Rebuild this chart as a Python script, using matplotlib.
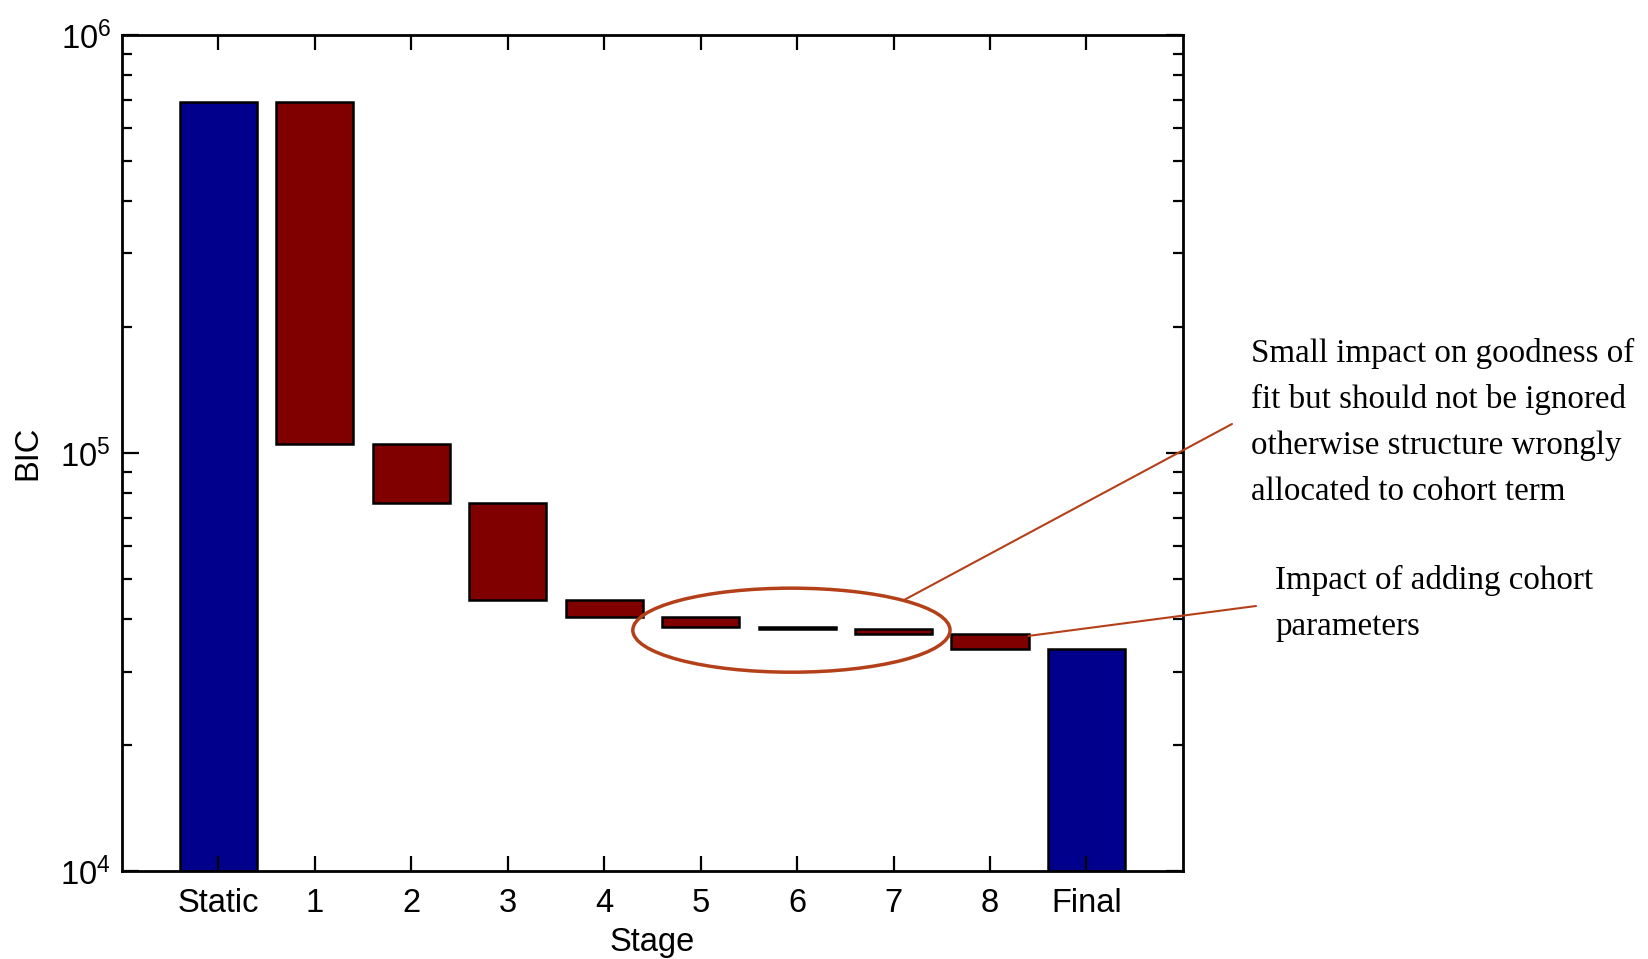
import matplotlib.pyplot as plt
import matplotlib.ticker as mticker
from matplotlib.patches import Ellipse
import numpy as np

plt.rcParams['font.family'] = ['Liberation Sans', 'DejaVu Sans']
plt.rcParams['mathtext.fontset'] = 'custom'
plt.rcParams['mathtext.rm'] = 'Liberation Sans'
plt.rcParams['mathtext.it'] = 'Liberation Sans'

# BIC after each stage (waterfall levels)
stages = ['Static', '1', '2', '3', '4', '5', '6', '7', '8', 'Final']
bic_static = 6.9e5
bic_levels = [6.9e5, 1.05e5, 7.6e4, 4.45e4, 4.05e4, 3.83e4, 3.80e4, 3.68e4, 3.39e4]
bic_final = 3.39e4

blue = '#00008C'
red = '#800000'
note_col = '#B4401A'

fig = plt.figure(figsize=(16.48, 9.59), dpi=100)
ax = fig.add_axes([0.074, 0.0918, 0.6438, 0.8718])

x = np.arange(1, len(stages) + 1)
ymin = 1e4

# totals
ax.bar(x[0], bic_static - ymin, bottom=ymin, width=0.8, color=blue,
       edgecolor='black', linewidth=1.8)
ax.bar(x[-1], bic_final - ymin, bottom=ymin, width=0.8, color=blue,
       edgecolor='black', linewidth=1.8)

# stage decrements
for i in range(1, len(bic_levels)):
    top = bic_levels[i - 1]
    low = bic_levels[i]
    ax.bar(x[i], top - low, bottom=low, width=0.8, color=red,
           edgecolor='black', linewidth=1.8)

ax.set_yscale('log')
ax.set_ylim(1e4, 1e6)
ax.set_xlim(0, 11)
ax.set_xticks(x)
ax.set_xticklabels(stages)
ax.yaxis.set_minor_formatter(mticker.NullFormatter())

ax.tick_params(axis='both', which='both', direction='in', top=True, right=True,
               labelsize=23.5)
ax.tick_params(axis='x', which='major', length=11, width=1.6, pad=12)
ax.tick_params(axis='y', which='major', length=12, width=1.6, pad=8)
ax.tick_params(axis='y', which='minor', length=7, width=1.6)
for s in ax.spines.values():
    s.set_linewidth(2)

ax.set_xlabel('Stage', fontsize=23.5, labelpad=6)
ax.set_ylabel('BIC', fontsize=23.5, labelpad=12)

# ellipse around stages 5-7
ell = Ellipse((0.631, 0.288), 0.299, 0.1005, transform=ax.transAxes,
              fill=False, edgecolor=note_col, linewidth=2.5, clip_on=False)
ax.add_patch(ell)

# annotation lines
ax.annotate('', xy=(0.737, 0.324), xycoords='axes fraction',
            xytext=(1232 / 1648, 1 - 424 / 959), textcoords='figure fraction',
            arrowprops=dict(arrowstyle='-', color=note_col, lw=1.5,
                            shrinkA=0, shrinkB=0))
ax.annotate('', xy=(9.4, 3.65e4), xycoords='data',
            xytext=(1256 / 1648, 1 - 606 / 959), textcoords='figure fraction',
            arrowprops=dict(arrowstyle='-', color=note_col, lw=1.5,
                            shrinkA=0, shrinkB=0))

serif = ['Liberation Serif', 'DejaVu Serif']
fig.text(1251 / 1648, 1 - 500 / 959,
         'Small impact on goodness of\nfit but should not be ignored\n'
         'otherwise structure wrongly\nallocated to cohort term',
         family=serif, fontsize=23.8, va='baseline', ha='left', linespacing=1.65)
fig.text(1275 / 1648, 1 - 635 / 959,
         'Impact of adding cohort\nparameters',
         family=serif, fontsize=23.8, va='baseline', ha='left', linespacing=1.65)

fig.savefig('out.png', dpi=100)
